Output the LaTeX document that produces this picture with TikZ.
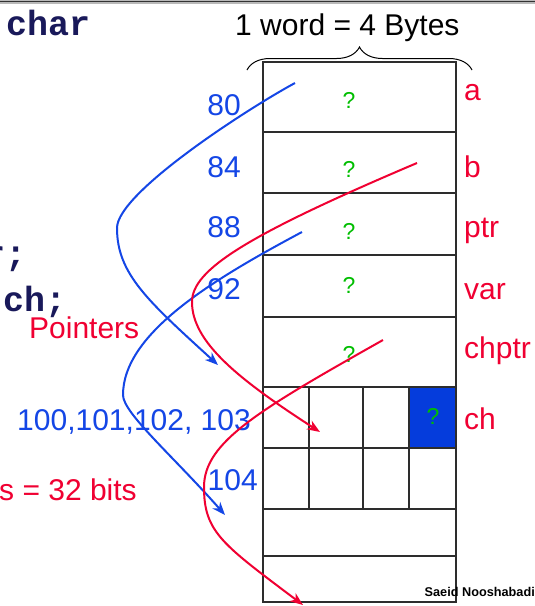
\documentclass[tikz,border=0pt]{standalone}
\usepackage{fontspec}
\setmainfont{Liberation Sans}
\newfontfamily\codefont{Liberation Mono}
\usetikzlibrary{arrows.meta,decorations.pathreplacing}
\definecolor{myblue}{RGB}{20,70,230}
\definecolor{myred}{RGB}{240,0,50}
\definecolor{mygreen}{RGB}{0,190,0}
\definecolor{cellblue}{RGB}{5,60,220}
\definecolor{navy}{RGB}{25,25,90}
\definecolor{gridgray}{RGB}{45,45,45}
\begin{document}
\begin{tikzpicture}[x=1pt,y=-1pt,
  lbl/.style={inner sep=0pt, font=\fontsize{30}{36}\selectfont},
  addr/.style={lbl, text=myblue, anchor=base east},
  varname/.style={lbl, text=myred, anchor=base west},
  qm/.style={inner sep=0pt, text=mygreen, font=\fontsize{23}{28}\selectfont, anchor=base},
  code/.style={inner sep=0pt, text=navy, font=\codefont\bfseries\fontsize{35}{40}\selectfont, anchor=base west},
  ptrarrow/.style={line width=2pt, -{Stealth[length=13pt,width=10pt,inset=4pt]}},
  gridline/.style={draw=gridgray, line width=1.3pt}
]
\useasboundingbox (0,0) rectangle (535,606);
\fill[white] (0,0) rectangle (535,606);
% top rule
\fill[gray!55] (0,0) rectangle (535,4);
\draw[gray!40!black, line width=1pt] (0,1.5) -- (535,1.5);

% memory grid
\fill[cellblue] (409,387) rectangle (456,448);
\draw[gridline] (263,62) rectangle (456,602);
\foreach \y in {132,193,255,317,387,448,509,556}
  \draw[gridline] (263,\y) -- (456,\y);
\foreach \x in {309,363,409}
  \draw[gridline] (\x,387) -- (\x,509);

% brace and header
\draw[line width=1pt, decorate, decoration={brace, amplitude=23pt}] (247,70) -- (472,70);
\node[lbl, anchor=base west] (hdr) at (235,35) {1 word = 4 Bytes};

% question marks
\node[qm] (q1) at (349,108) {?};
\node[qm] (q2) at (349,177) {?};
\node[qm] (q3) at (349,239) {?};
\node[qm] (q4) at (349,293) {?};
\node[qm] (q5) at (349,362) {?};
\node[qm] (q6) at (433,424) {?};

% addresses
\node[addr] (a80) at (241,115) {80};
\node[addr] (a84) at (241,177) {84};
\node[addr] (a88) at (241,237) {88};
\node[addr] (a92) at (241,299) {92};
\node[addr] (a100) at (251,430) {100,101,102, 103};
\node[addr] (a104) at (258,490) {104};

% variable names
\node[varname] (va) at (464,100) {a};
\node[varname] (vb) at (464,177) {b};
\node[varname] (vptr) at (464,237) {ptr};
\node[varname] (vvar) at (464,299) {var};
\node[varname] (vchptr) at (464,358) {chptr};
\node[varname] (vch) at (464,429) {ch};

% left texts
\node[code] (c1) at (6,35) {char};
\node[code] (c2) at (-16,265) {r;};
\node[code] (c3) at (3,311) {ch;};
\node[varname] (pointers) at (29,338) {Pointers};
\node[varname] (bits) at (-1,500) {s = 32 bits};

% author
\node[inner sep=0pt, anchor=base east, font=\bfseries\fontsize{12.7}{14}\selectfont] (auth) at (535,596) {Saeid Nooshabadi};

% pointer curves
\coordinate (b1s) at (295,83);  \coordinate (b1e) at (218,365);
\coordinate (b2s) at (302,232); \coordinate (b2e) at (225,515);
\coordinate (r1s) at (417,163); \coordinate (r1e) at (320,432);
\coordinate (r2s) at (383,340); \coordinate (r2e) at (303,605);

\draw[ptrarrow, myblue] (b1s) .. controls (247,109) and (117,193) .. (117,228)
  .. controls (117,274) and (148,301) .. (b1e);
\draw[ptrarrow, myblue] (b2s) .. controls (214,279) and (123,333) .. (123,395)
  .. controls (123,413) and (174,457) .. (b2e);
\draw[ptrarrow, myred] (r1s) .. controls (245,236) and (192,270) .. (192,302)
  .. controls (192,342) and (238,379) .. (r1e);
\draw[ptrarrow, myred] (r2s) .. controls (259,410) and (204,442) .. (204,487)
  .. controls (204,532) and (222,544) .. (r2e);
\end{tikzpicture}
\end{document}
